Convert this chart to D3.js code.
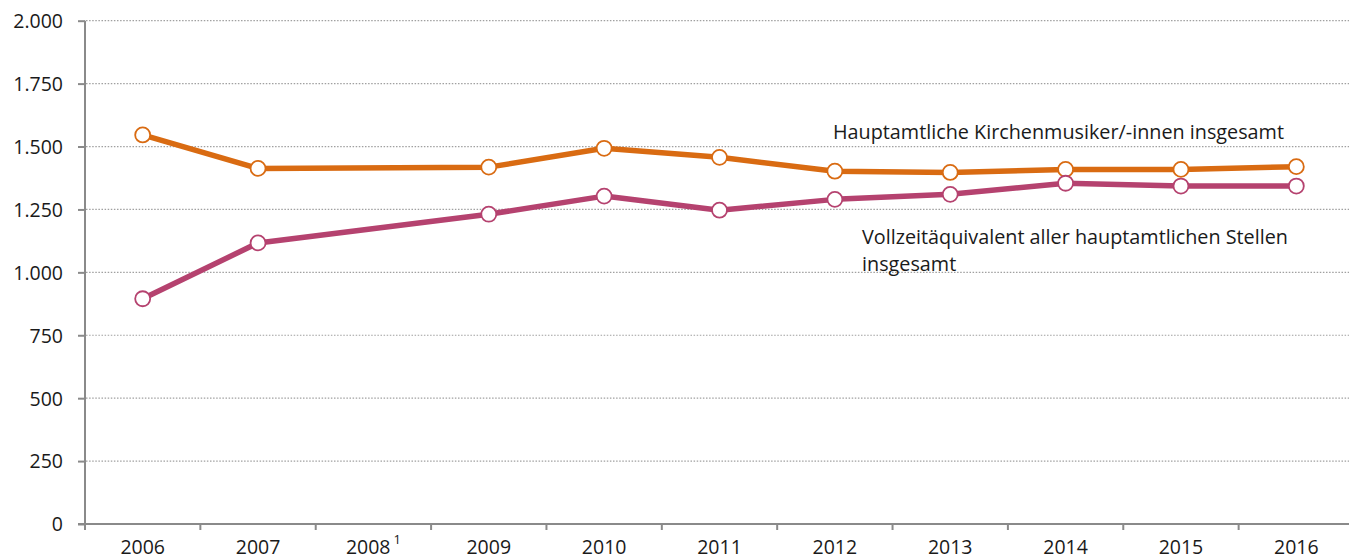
<!DOCTYPE html>
<html><head><meta charset="utf-8">
<script src="https://cdn.jsdelivr.net/npm/d3@7"></script>
<style>body{margin:0;background:#fff}svg{display:block}text{font-family:"Open Sans",sans-serif;fill:#1a1a1a}</style>
</head><body>
<svg id="c" width="1349" height="559"></svg>
<script>
const years = ["2006","2007","2008","2009","2010","2011","2012","2013","2014","2015","2016"];
const yTicks = [0,250,500,750,1000,1250,1500,1750,2000];
const kirchenmusiker = [1546,1413,null,1418,1493,1457,1402,1397,1409,1409,1420];
const vollzeit = [895,1117,null,1231,1303,1247,1290,1310,1354,1343,1343];
const labelKM = ["Hauptamtliche Kirchenmusiker/-innen insgesamt"];
const labelVZ = ["Vollzeitäquivalent aller hauptamtlichen Stellen","insgesamt"];

const svg = d3.select("#c");
const x = d3.scaleBand().domain(years).range([85,1354]);
const y = d3.scaleLinear().domain([0,2000]).range([524,20.7]);
const fmt = v => d3.format(",")(v).replace(/,/g,".");

// grid
svg.append("g").selectAll("line").data(yTicks.filter(d=>d>0)).join("line")
  .attr("x1",86).attr("x2",1349).attr("y1",d=>y(d)).attr("y2",d=>y(d))
  .attr("stroke","#a0a0a0").attr("stroke-width",1.2).attr("stroke-dasharray","1.5,1.6");

// y axis
const ya = svg.append("g").attr("transform","translate(85,0)")
  .call(d3.axisLeft(y).tickValues(yTicks).tickSize(7).tickPadding(15).tickFormat(fmt));
ya.attr("font-family",null).attr("font-size",null);
ya.select(".domain").attr("stroke","#8a8a8a").attr("stroke-width",2).attr("d","M0,524V20.7");
ya.selectAll(".tick line").attr("stroke","#8a8a8a").attr("stroke-width",2);
ya.selectAll(".tick text").attr("font-size",19.5).attr("fill","#1a1a1a").attr("dy","0.35em");

// x axis
const xa = svg.append("g").attr("transform","translate(0,524)");
xa.append("line").attr("x1",78).attr("x2",1349).attr("y1",0).attr("y2",0).attr("stroke","#8a8a8a").attr("stroke-width",2);
xa.selectAll("line.t").data(years).join("line").attr("class","t")
  .attr("x1",d=>x(d)).attr("x2",d=>x(d)).attr("y1",0).attr("y2",6)
  .attr("stroke","#8a8a8a").attr("stroke-width",2);
const xl = xa.selectAll("text").data(years).join("text")
  .attr("x",d=>x(d)+x.bandwidth()/2).attr("y",29.5).attr("text-anchor","middle").attr("font-size",19.5)
  .text(d=>d);
xl.filter(d=>d==="2008").append("tspan").attr("dx",3).attr("dy",-10).attr("font-size",13).text("1");

// lines
const cx = d=>x(d)+x.bandwidth()/2;
const series = [
  {vals:kirchenmusiker,color:"#d96b12"},
  {vals:vollzeit,color:"#b5426f"}
];
const line = d3.line().x(d=>cx(d.year)).y(d=>y(d.v));
series.forEach(s=>{
  const pts = years.map((yr,i)=>({year:yr,v:s.vals[i]})).filter(d=>d.v!=null);
  svg.append("path").datum(pts).attr("d",line).attr("fill","none")
    .attr("stroke",s.color).attr("stroke-width",5.5).attr("stroke-linejoin","round");
  svg.append("g").selectAll("circle").data(pts).join("circle")
    .attr("cx",d=>cx(d.year)).attr("cy",d=>y(d.v)).attr("r",7.5)
    .attr("fill","#fff").attr("stroke",s.color).attr("stroke-width",1.8);
});

// labels
svg.append("text").attr("x",833).attr("y",138.5).attr("font-size",19.8).text(labelKM[0]);
svg.append("text").attr("x",862).attr("y",243.5).attr("font-size",19.8).selectAll("tspan").data(labelVZ).join("tspan")
  .attr("x",862).attr("dy",(d,i)=>i?27:0).text(d=>d);
</script>
</body></html>
